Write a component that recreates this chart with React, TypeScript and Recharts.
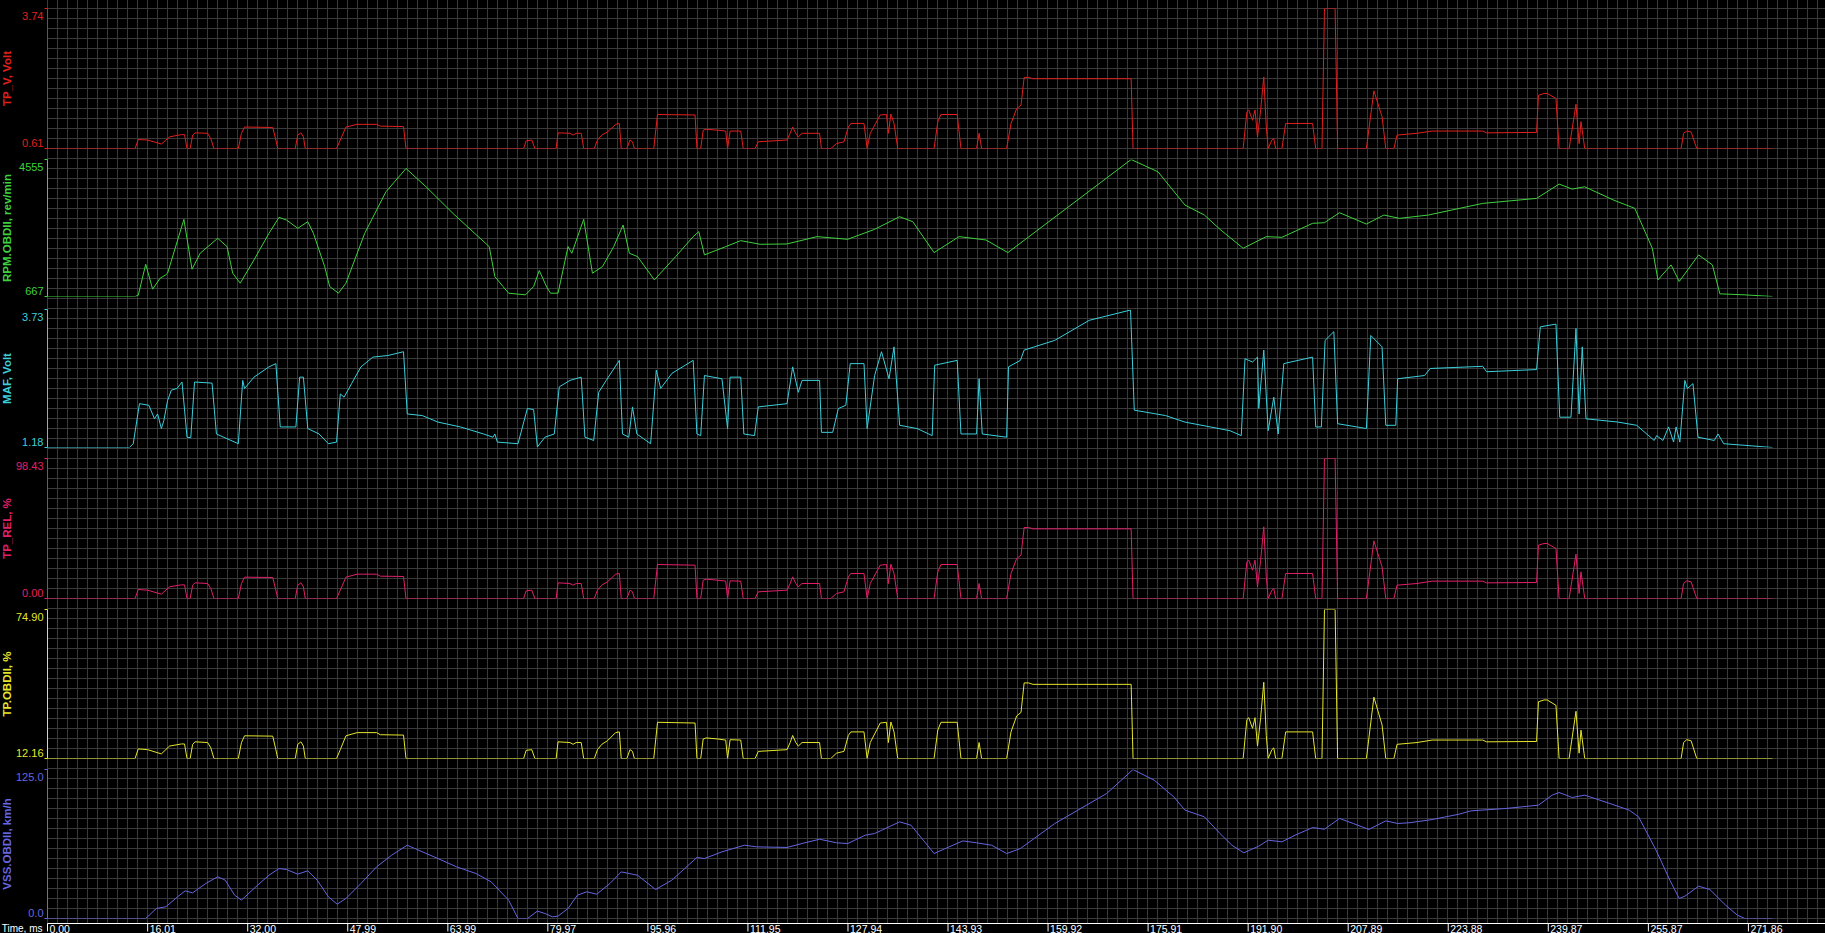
import { LineChart, Line, XAxis, YAxis, CartesianGrid } from 'recharts';

const W = 1825;
const H = 933;
const X_MAX = 284.1;

// time axis
const xTicks = [0, 16.01, 32.0, 47.99, 63.99, 79.97, 95.96, 111.95, 127.94, 143.93, 159.92, 175.91, 191.9, 207.89, 223.88, 239.87, 255.87, 271.86];
const xTickLabels = ['0.00', '16.01', '32.00', '47.99', '63.99', '79.97', '95.96', '111.95', '127.94', '143.93', '159.92', '175.91', '191.90', '207.89', '223.88', '239.87', '255.87', '271.86'];

// throttle channels (TP_V, TP_REL, TP.OBDII) are logged on the same time base
const throttleTime = [
  0, 14.0, 14.5, 16.0, 18.2, 19.5, 21.4, 21.9, 22.3, 22.8,
  23.2, 23.6, 25.6, 26.1, 26.6, 30.5, 31.0, 31.5, 36.0, 36.5,
  36.8, 39.6, 40.0, 40.5, 40.9, 41.2, 46.2, 46.8, 47.7, 49.5,
  52.6, 53.2, 56.9, 57.3, 76.1, 76.5, 77.4, 77.9, 81.3, 81.6,
  83.5, 84.0, 84.5, 85.3, 85.7, 87.4, 87.9, 88.6, 89.5, 90.8,
  91.4, 91.7, 92.6, 93.1, 93.5, 93.8, 96.9, 97.5, 103.5, 103.8,
  104.4, 104.8, 105.3, 107.1, 108.4, 108.7, 109.1, 110.8, 111.2, 113.1,
  113.6, 118.2, 118.7, 119.1, 119.6, 120.0, 120.6, 123.4, 123.7, 125.2,
  126.1, 127.3, 128.0, 128.4, 130.5, 131.0, 131.5, 133.1, 134.1, 134.4,
  134.8, 135.3, 135.9, 141.7, 142.3, 142.8, 145.4, 146.0, 148.5, 148.9,
  149.3, 153.3, 154.0, 154.9, 155.6, 156.1, 156.8, 157.5, 173.2, 173.5,
  191.1, 191.7, 192.0, 192.6, 193.0, 193.4, 193.9, 194.4, 194.8, 195.1,
  195.7, 196.0, 196.3, 197.3, 197.9, 202.2, 202.7, 203.7, 204.1, 205.8,
  206.2, 210.8, 212.0, 213.3, 213.9, 215.2, 215.7, 218.9, 221.3, 229.4,
  230.0, 238.0, 238.3, 239.2, 239.7, 241.1, 241.6, 243.2, 244.3, 244.8,
  245.1, 245.7, 261.1, 261.5, 262.0, 262.7, 263.6, 275.7,
];

const tpVoltValues = [
  0.61, 0.61, 0.81, 0.80, 0.71, 0.87, 0.92, 0.92, 0.61, 0.61,
  0.91, 0.96, 0.95, 0.83, 0.61, 0.61, 0.95, 1.09, 1.08, 0.80,
  0.61, 0.61, 0.91, 0.96, 0.87, 0.61, 0.61, 0.80, 1.09, 1.15,
  1.15, 1.11, 1.10, 0.61, 0.61, 0.78, 0.80, 0.61, 0.61, 0.96,
  0.95, 0.91, 0.95, 0.95, 0.61, 0.61, 0.80, 0.91, 0.98, 1.15,
  1.17, 0.61, 0.61, 0.80, 0.76, 0.61, 0.61, 1.37, 1.36, 0.61,
  0.61, 1.02, 1.04, 1.02, 1.00, 0.61, 1.00, 1.00, 0.61, 0.61,
  0.76, 0.80, 0.95, 1.09, 0.95, 0.87, 0.95, 0.95, 0.61, 0.61,
  0.72, 0.76, 1.09, 1.17, 1.17, 0.61, 0.95, 1.36, 1.37, 0.95,
  1.38, 1.17, 0.61, 0.61, 1.21, 1.37, 1.37, 0.61, 0.61, 0.95,
  0.61, 0.61, 1.17, 1.50, 1.58, 2.20, 2.20, 2.17, 2.17, 0.61,
  0.61, 1.43, 1.47, 1.24, 1.47, 0.87, 1.47, 2.21, 1.09, 0.61,
  0.80, 0.83, 0.61, 0.61, 1.17, 1.17, 0.61, 0.61, 3.74, 3.74,
  0.61, 0.61, 1.90, 1.32, 0.61, 0.61, 0.91, 0.95, 1.00, 1.00,
  0.96, 0.97, 1.80, 1.84, 1.84, 1.73, 0.61, 0.61, 1.60, 0.72,
  1.21, 0.61, 0.61, 0.95, 1.00, 0.98, 0.61, 0.61,
];

const tpRelValues = [
  0, 0, 6.33, 5.86, 3.05, 8.2, 9.61, 9.61, 0, 0,
  9.37, 11.01, 10.55, 7.03, 0, 0, 10.55, 15.0, 14.76, 5.86,
  0, 0, 9.37, 11.01, 8.2, 0, 0, 5.86, 15.0, 17.11,
  17.11, 15.7, 15.47, 0, 0, 5.39, 5.86, 0, 0, 11.01,
  10.55, 9.37, 10.55, 10.55, 0, 0, 5.86, 9.37, 11.72, 17.11,
  17.58, 0, 0, 5.86, 4.69, 0, 0, 23.9, 23.44, 0,
  0, 12.89, 13.59, 12.89, 12.19, 0, 12.42, 12.19, 0, 0,
  4.69, 5.86, 10.55, 15.23, 10.55, 8.2, 10.55, 10.55, 0, 0,
  3.52, 4.69, 15.23, 17.58, 17.58, 0, 10.55, 23.44, 23.9, 10.55,
  24.14, 17.58, 0, 0, 18.75, 23.9, 23.9, 0, 0, 10.55,
  0, 0, 17.58, 28.12, 30.47, 49.92, 49.92, 48.98, 48.98, 0,
  0, 25.78, 26.95, 19.92, 26.95, 8.2, 26.95, 50.39, 15.23, 0,
  5.86, 7.03, 0, 0, 17.58, 17.58, 0, 0, 98.43, 98.43,
  0, 0, 40.54, 22.26, 0, 0, 9.37, 10.55, 12.19, 12.19,
  11.01, 11.25, 37.5, 38.67, 38.67, 35.15, 0, 0, 31.17, 3.52,
  18.75, 0, 0, 10.55, 12.42, 11.72, 0, 0,
];

const tpObdValues = [
  12.16, 12.16, 16.19, 15.89, 14.1, 17.39, 18.28, 18.28, 12.16, 12.16,
  18.13, 19.18, 18.88, 16.64, 12.16, 12.16, 18.88, 21.72, 21.57, 15.89,
  12.16, 12.16, 18.13, 19.18, 17.39, 12.16, 12.16, 15.89, 21.72, 23.06,
  23.06, 22.17, 22.02, 12.16, 12.16, 15.6, 15.89, 12.16, 12.16, 19.18,
  18.88, 18.13, 18.88, 18.88, 12.16, 12.16, 15.89, 18.13, 19.63, 23.06,
  23.36, 12.16, 12.16, 15.89, 15.15, 12.16, 12.16, 27.4, 27.1, 12.16,
  12.16, 20.38, 20.82, 20.38, 19.93, 12.16, 20.08, 19.93, 12.16, 12.16,
  15.15, 15.89, 18.88, 21.87, 18.88, 17.39, 18.88, 18.88, 12.16, 12.16,
  14.4, 15.15, 21.87, 23.36, 23.36, 12.16, 18.88, 27.1, 27.4, 18.88,
  27.54, 23.36, 12.16, 12.16, 24.11, 27.4, 27.4, 12.16, 12.16, 18.88,
  12.16, 12.16, 23.36, 30.08, 31.58, 43.98, 43.98, 43.38, 43.38, 12.16,
  12.16, 28.59, 29.34, 24.86, 29.34, 17.39, 29.34, 44.28, 21.87, 12.16,
  15.89, 16.64, 12.16, 12.16, 23.36, 23.36, 12.16, 12.16, 74.9, 74.9,
  12.16, 12.16, 38.0, 26.35, 12.16, 12.16, 18.13, 18.88, 19.93, 19.93,
  19.18, 19.33, 36.06, 36.81, 36.81, 34.56, 12.16, 12.16, 32.03, 14.4,
  24.11, 12.16, 12.16, 18.88, 20.08, 19.63, 12.16, 12.16,
];

const rpmTime = [
  0, 14.0, 14.5, 15.7, 16.8, 18.0, 18.9, 19.2, 21.8, 23.1,
  24.4, 27.2, 28.7, 29.6, 30.8, 33.0, 35.4, 37.0, 38.2, 40.0,
  41.6, 42.5, 44.3, 45.1, 46.5, 47.7, 50.7, 54.1, 57.3, 60.5,
  64.8, 70.6, 71.5, 72.8, 73.7, 76.4, 77.7, 78.6, 79.8, 80.4,
  81.6, 83.2, 83.8, 85.7, 87.1, 88.7, 90.5, 92.0, 93.0, 94.3,
  97.0, 100.4, 103.2, 104.1, 105.0, 108.4, 110.8, 113.9, 118.2, 123.0,
  127.9, 132.2, 136.2, 138.3, 141.7, 145.7, 150.0, 153.5, 173.2, 177.5,
  181.8, 184.9, 187.4, 191.1, 194.8, 197.3, 202.2, 204.1, 206.5, 210.8,
  213.6, 216.1, 220.7, 229.4, 238.0, 241.6, 243.7, 245.7, 250.3, 253.7,
  256.5, 257.4, 259.5, 260.8, 263.9, 266.1, 267.3, 271.3, 275.7,
];
const rpmValues = [
  667, 667, 700, 1582, 875, 1186, 1280, 1330, 2856, 1441,
  1894, 2318, 2082, 1328, 1044, 1705, 2460, 2913, 2837, 2602,
  2790, 2460, 1516, 950, 761, 1044, 2460, 3640, 4300, 3781,
  3026, 2082, 1233, 950, 761, 714, 950, 1403, 931, 761,
  761, 2082, 1894, 2856, 1328, 1516, 2082, 2696, 1894, 1800,
  1139, 1800, 2366, 2507, 1847, 2082, 2252, 2149, 2158, 2366,
  2290, 2573, 2932, 2790, 1913, 2366, 2271, 1913, 4555, 4206,
  3262, 2979, 2573, 2035, 2366, 2347, 2743, 2762, 3045, 2724,
  2979, 2884, 2979, 3309, 3451, 3857, 3715, 3781, 3404, 3168,
  2035, 1139, 1563, 1092, 1847, 1563, 742, 714, 667,
];

const mafTime = [
  0, 13.1, 13.7, 14.7, 16.2, 17.1, 17.6, 18.2, 18.6, 19.2,
  19.8, 20.7, 21.5, 22.3, 22.9, 23.5, 26.3, 27.0, 30.5, 31.2,
  31.5, 33.0, 35.4, 36.5, 37.2, 39.7, 40.3, 40.9, 41.6, 43.4,
  44.9, 46.2, 46.8, 47.4, 48.6, 50.1, 52.0, 54.4, 56.9, 57.5,
  59.9, 62.4, 66.0, 69.7, 71.2, 71.5, 71.9, 75.2, 76.7, 77.7,
  78.3, 79.5, 81.0, 81.8, 83.5, 85.3, 85.9, 87.3, 88.1, 89.3,
  91.4, 91.9, 92.9, 93.5, 94.2, 96.4, 97.3, 98.0, 99.8, 103.2,
  103.8, 104.4, 105.0, 107.8, 108.7, 109.1, 110.8, 111.3, 113.0, 113.6,
  118.2, 119.1, 120.0, 120.6, 123.4, 123.7, 125.5, 126.4, 127.6, 128.3,
  130.5, 131.0, 132.2, 133.3, 134.5, 135.3, 136.2, 139.0, 141.4, 141.8,
  145.4, 146.0, 148.5, 148.9, 149.4, 153.3, 153.6, 155.5, 156.1, 161.0,
  166.5, 173.1, 173.7, 178.7, 181.8, 189.0, 190.8, 191.4, 192.6, 193.4,
  193.6, 194.4, 195.1, 196.0, 196.7, 197.6, 202.2, 202.7, 203.6, 204.2,
  205.6, 206.2, 210.8, 211.5, 213.3, 213.9, 215.5, 215.8, 220.1, 221.0,
  229.4, 230.0, 238.0, 238.6, 241.1, 241.7, 243.5, 244.3, 244.8, 245.3,
  245.9, 251.0, 254.0, 256.8, 257.2, 258.2, 259.1, 259.9, 260.3, 260.9,
  261.7, 262.1, 263.0, 263.8, 266.4, 267.0, 267.9, 271.3, 275.7,
];
const mafValues = [
  1.18, 1.18, 1.25, 1.99, 1.96, 1.71, 1.80, 1.53, 1.68, 2.05,
  2.24, 2.27, 2.39, 1.37, 1.36, 2.39, 2.37, 1.43, 1.25, 2.42,
  2.27, 2.48, 2.67, 2.73, 1.56, 1.56, 2.48, 2.48, 1.53, 1.43,
  1.25, 1.28, 2.17, 2.11, 2.36, 2.67, 2.85, 2.88, 2.95, 1.80,
  1.77, 1.65, 1.56, 1.43, 1.37, 1.43, 1.28, 1.25, 1.90, 1.88,
  1.19, 1.37, 1.43, 2.30, 2.42, 2.48, 1.37, 1.31, 2.20, 2.42,
  2.79, 1.43, 1.37, 1.93, 1.43, 1.25, 2.61, 2.27, 2.55, 2.79,
  1.43, 1.40, 2.51, 2.45, 1.53, 2.48, 2.48, 1.43, 1.40, 1.93,
  1.99, 2.67, 2.20, 2.42, 2.42, 1.46, 1.46, 1.90, 1.96, 2.73,
  2.73, 1.53, 2.51, 2.95, 2.45, 3.04, 1.59, 1.53, 1.40, 2.70,
  2.79, 1.43, 1.43, 2.45, 1.43, 1.37, 2.67, 2.79, 2.98, 3.16,
  3.53, 3.72, 1.87, 1.77, 1.65, 1.49, 1.40, 2.82, 2.76, 2.85,
  1.90, 2.98, 1.49, 2.11, 1.43, 2.73, 2.85, 1.56, 1.56, 3.16,
  3.32, 1.62, 1.53, 3.25, 3.04, 1.59, 1.59, 2.45, 2.51, 2.64,
  2.68, 2.58, 2.62, 3.41, 3.46, 1.74, 1.74, 3.38, 1.80, 3.04,
  1.71, 1.65, 1.59, 1.31, 1.40, 1.31, 1.56, 1.28, 1.56, 1.28,
  2.42, 2.27, 2.36, 1.37, 1.31, 1.43, 1.25, 1.22, 1.18,
];

const vssTime = [
  0, 15.7, 17.4, 18.9, 20.8, 22.0, 23.2, 25.3, 27.2, 28.4,
  29.9, 31.0, 33.3, 35.4, 37.0, 38.2, 40.0, 41.6, 43.1, 44.9,
  46.3, 47.7, 50.1, 52.6, 55.0, 57.5, 58.7, 62.4, 65.4, 68.5,
  70.9, 73.7, 75.2, 76.7, 78.3, 79.5, 80.7, 81.6, 83.2, 84.7,
  86.2, 87.8, 89.9, 91.7, 94.3, 97.2, 99.8, 103.8, 105.0, 107.8,
  111.4, 113.3, 118.2, 120.6, 123.4, 126.1, 127.9, 130.7, 132.2, 134.7,
  136.2, 138.0, 140.2, 141.7, 143.5, 146.3, 148.5, 150.9, 153.3, 155.5,
  161.0, 169.3, 173.5, 176.9, 180.0, 181.8, 184.9, 187.4, 189.3, 191.2,
  193.6, 195.1, 197.3, 199.4, 202.2, 204.1, 206.5, 208.7, 211.2, 213.9,
  215.8, 217.6, 221.3, 225.6, 227.5, 233.1, 238.3, 240.5, 241.6, 243.7,
  245.7, 249.7, 252.8, 254.3, 257.1, 259.3, 260.8, 261.7, 263.9, 265.7,
  268.2, 270.1, 271.3, 275.7,
];
const vssValues = [
  0, 0, 8.4, 9.8, 18.2, 23.2, 21.5, 29.4, 35.0, 32.2,
  19.6, 15.4, 26.6, 36.3, 41.9, 41.1, 37.2, 40.0, 32.2, 18.2,
  12.0, 16.8, 29.4, 43.3, 53.1, 61.5, 58.7, 50.3, 43.3, 37.7,
  30.8, 15.4, 0, 0, 6.2, 4.2, 1.4, 2.0, 8.4, 19.6,
  22.4, 20.4, 29.4, 39.1, 36.3, 24.3, 32.2, 51.2, 50.3, 55.9,
  61.5, 60.1, 59.6, 62.9, 66.5, 63.5, 62.9, 69.9, 71.3, 77.4,
  81.1, 78.3, 64.3, 54.5, 58.7, 65.1, 63.5, 61.5, 54.5, 58.7,
  79.7, 104.9, 125.0, 116.0, 102.1, 90.9, 85.3, 71.3, 61.5, 55.1,
  60.7, 65.7, 64.3, 69.9, 76.3, 74.9, 83.9, 79.7, 74.7, 81.9,
  79.7, 80.3, 83.0, 87.5, 90.3, 92.3, 95.1, 103.5, 105.7, 101.5,
  103.5, 96.5, 90.9, 85.3, 57.3, 32.2, 16.8, 18.7, 27.1, 24.3,
  11.2, 2.8, 0, 0,
];

// axis ranges and their printed labels
const tpVoltTicks = [0.61, 3.74];
const tpVoltTickLabels = ['0.61', '3.74'];
const rpmTicks = [667, 4555];
const rpmTickLabels = ['667', '4555'];
const mafTicks = [1.18, 3.73];
const mafTickLabels = ['1.18', '3.73'];
const tpRelTicks = [0, 98.43];
const tpRelTickLabels = ['0.00', '98.43'];
const tpObdTicks = [12.16, 74.9];
const tpObdTickLabels = ['12.16', '74.90'];
const vssTicks = [0, 125];
const vssTickLabels = ['0.0', '125.0'];

const toRows = (time: number[], values: number[]) => time.map((t, i) => ({ t, v: values[i] }));

const panels = [
  { title: 'TP_V, Volt', color: '#e0201e', top: 3, plot: 140, rows: toRows(throttleTime, tpVoltValues), ticks: tpVoltTicks, labels: tpVoltTickLabels },
  { title: 'RPM.OBDII, rev/min', color: '#3fd13f', top: 154, plot: 137, rows: toRows(rpmTime, rpmValues), ticks: rpmTicks, labels: rpmTickLabels },
  { title: 'MAF, Volt', color: '#3ccfdc', top: 304, plot: 138, rows: toRows(mafTime, mafValues), ticks: mafTicks, labels: mafTickLabels },
  { title: 'TP_REL, %', color: '#e0206a', top: 453, plot: 140, rows: toRows(throttleTime, tpRelValues), ticks: tpRelTicks, labels: tpRelTickLabels },
  { title: 'TP.OBDII, %', color: '#e6e62e', top: 604, plot: 149, rows: toRows(throttleTime, tpObdValues), ticks: tpObdTicks, labels: tpObdTickLabels },
  { title: 'VSS.OBDII, km/h', color: '#6666e2', top: 764, plot: 149, rows: toRows(vssTime, vssValues), ticks: vssTicks, labels: vssTickLabels },
];

const FONT = '"Liberation Sans", Arial, sans-serif';

type Panel = (typeof panels)[number];

const Strip = ({ p }: { p: Panel }) => {
  const renderTick = (props: any) => {
    const { x, y, payload } = props;
    const isTop = payload.value === p.ticks[1];
    return (
      <text x={x} y={y + (isTop ? 11 : -2)} fill={p.color} textAnchor="end" fontSize={11} fontFamily={FONT}>
        {p.labels[isTop ? 1 : 0]}
      </text>
    );
  };
  return (
    <div style={{ position: 'absolute', left: 0, top: p.top }}>
      <LineChart width={W} height={p.plot + 10} data={p.rows} margin={{ top: 5.5, right: 0, bottom: 4.5, left: 0.5 }}>
        <XAxis dataKey="t" type="number" domain={[0, X_MAX]} allowDataOverflow hide />
        <YAxis
          width={47}
          domain={[p.ticks[0], p.ticks[1]]}
          ticks={p.ticks}
          interval={0}
          allowDataOverflow
          axisLine={{ stroke: p.color }}
          tickLine={{ stroke: p.color }}
          tickSize={3}
          tickMargin={1}
          tick={renderTick}
          label={{
            value: p.title,
            angle: -90,
            position: 'insideLeft',
            offset: 6.5,
            fill: p.color,
            style: { textAnchor: 'middle', fontWeight: 'bold', fontSize: 11.5, fontFamily: FONT, fill: p.color },
          }}
        />
        <Line type="linear" dataKey="v" stroke={p.color} strokeWidth={1} dot={false} activeDot={false} isAnimationActive={false} />
      </LineChart>
    </div>
  );
};

export default function App() {
  const renderXTick = (props: any) => {
    const { x, y, payload } = props;
    const label = xTickLabels[xTicks.indexOf(payload.value)];
    return (
      <text x={x + 2} y={y + 1} fill="#ffffff" fontSize={10.5} fontFamily={FONT}>
        {label}
      </text>
    );
  };

  return (
    <div style={{ position: 'fixed', left: 0, top: 0, width: W, height: H, background: '#000', overflow: 'hidden' }}>
      <div style={{ position: 'absolute', left: 0, top: 0 }}>
        <LineChart width={W} height={H} data={[{ t: 0 }, { t: X_MAX }]} margin={{ top: 0, right: 0, bottom: 0, left: 47.5 }}>
          <CartesianGrid
            stroke="#3a3a3a"
            verticalCoordinatesGenerator={({ offset }: any) => {
              const out: number[] = [];
              for (let x = offset.left; x <= offset.left + offset.width; x += 10) out.push(x);
              return out;
            }}
            horizontalCoordinatesGenerator={({ offset }: any) => {
              const out: number[] = [];
              for (let y = offset.top + 8.5; y < offset.top + offset.height; y += 10) out.push(y);
              return out;
            }}
          />
          <XAxis
            dataKey="t"
            type="number"
            domain={[0, X_MAX]}
            allowDataOverflow
            ticks={xTicks}
            interval={0}
            height={9.5}
            axisLine={{ stroke: '#ffffff' }}
            tickLine={{ stroke: '#ffffff' }}
            tickSize={8}
            tickMargin={0}
            tick={renderXTick}
            label={{ value: 'Time, ms', position: 'left', offset: 5, fill: '#ffffff', style: { fontSize: 10, fontFamily: FONT, fill: '#ffffff' } }}
          />
          <YAxis hide domain={[0, 1]} />
        </LineChart>
      </div>
      {panels.map((p) => (
        <Strip key={p.title} p={p} />
      ))}
    </div>
  );
}
